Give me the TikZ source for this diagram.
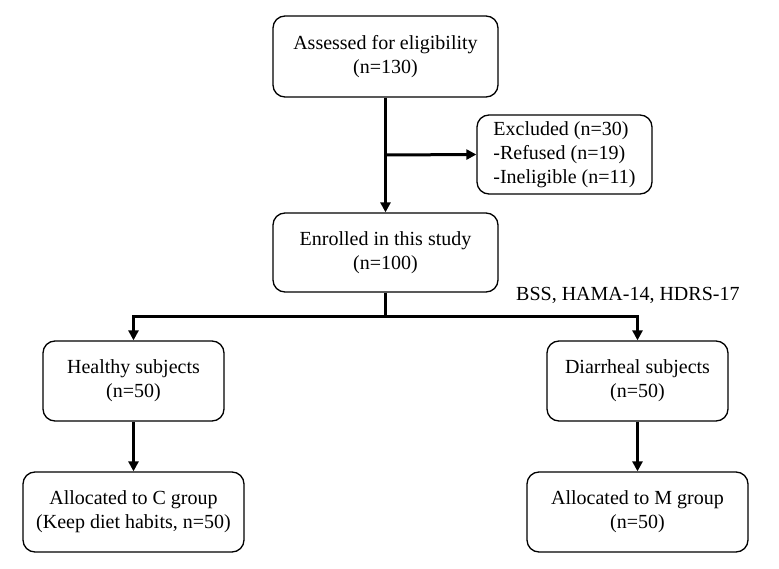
\documentclass[tikz,border=0pt]{standalone}
\usepackage{fontspec}
\setmainfont{Liberation Serif}
\usetikzlibrary{arrows.meta}
\begin{document}
\begin{tikzpicture}[x=1pt,y=-1pt,
  box/.style={draw, line width=1.3pt, rounded corners=12pt, align=center, inner sep=0pt,
    font=\fontsize{20}{24}\selectfont},
  conn/.style={line width=3pt},
  arr/.style={line width=3pt, -{Triangle[length=10pt,width=10pt]}}]
\useasboundingbox (0,0) rectangle (779,569);
\node[box, minimum width=225pt, minimum height=81pt] (top) at (385.5,56.5) {Assessed for eligibility\\(n=130)};
\node[box, minimum width=175pt, minimum height=79pt, align=left] (exc) at (564.5,154.5) {Excluded (n=30)\\-Refused (n=19)\\-Ineligible (n=11)};
\node[box, minimum width=225pt, minimum height=79pt] (enr) at (385.5,252.5) {Enrolled in this study\\(n=100)};
\node[box, minimum width=181pt, minimum height=80pt] (hea) at (133.5,381) {Healthy subjects\\(n=50)};
\node[box, minimum width=181pt, minimum height=80pt] (dia) at (637.5,381) {Diarrheal subjects\\(n=50)};
\node[box, minimum width=221pt, minimum height=80pt] (ac) at (133.5,512) {Allocated to C group\\(Keep diet habits, n=50)};
\node[box, minimum width=221pt, minimum height=80pt] (am) at (637.5,512) {Allocated to M group\\(n=50)};
\node[anchor=west, inner sep=0pt, font=\fontsize{20}{24}\selectfont] (lab) at (516,295) {BSS, HAMA-14, HDRS-17};
\coordinate (br) at (385.5,155);
\coordinate (sp) at (385.5,316.5);
\coordinate (sl) at (133.5,316.5);
\coordinate (sr) at (637.5,316.5);
\draw[arr] (top.south) -- (enr.north);
\draw[arr] (br) -- (exc.west);
\draw[conn] (enr.south) -- (sp);
\draw[arr] (sp) -- (sl) -- (hea.north);
\draw[arr] (sp) -- (sr) -- (dia.north);
\draw[arr] (hea.south) -- (ac.north);
\draw[arr] (dia.south) -- (am.north);
\end{tikzpicture}
\end{document}
